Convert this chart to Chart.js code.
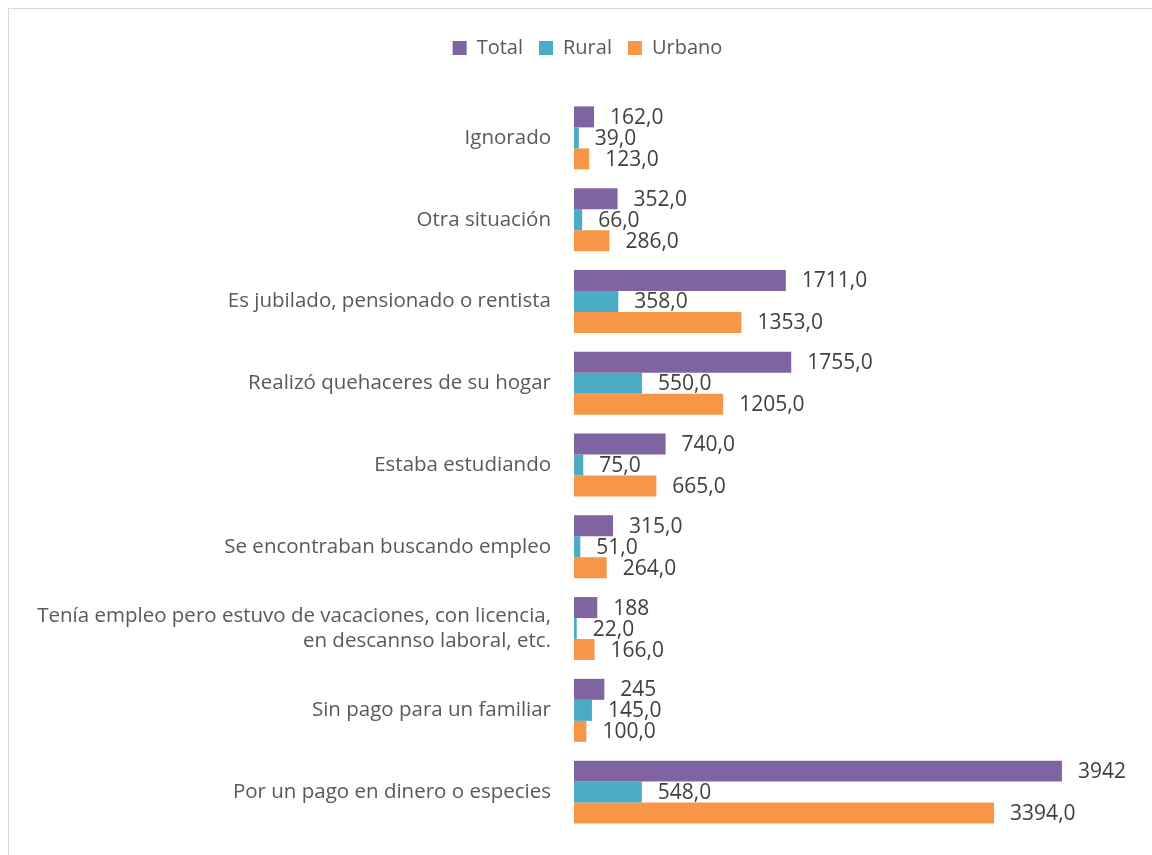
<!DOCTYPE html>
<html>
<head>
<meta charset="utf-8">
<script src="https://cdn.jsdelivr.net/npm/chart.js@4/dist/chart.umd.min.js"></script>
<style>
  html, body { margin: 0; padding: 0; background: #fff; }
  #wrap { position: relative; width: 1152px; height: 855px; overflow: hidden; }
  #frame { position: absolute; left: 8px; top: 8px; width: 1200px; height: 900px; border: 1px solid #d9d9d9; box-sizing: border-box; }
  canvas { position: absolute; left: 0; top: 0; }
</style>
</head>
<body>
<div id="wrap">
  <div id="frame"></div>
  <canvas id="chart" width="1152" height="855"></canvas>
</div>
<script>
const categories = [
  'Ignorado',
  'Otra situación',
  'Es jubilado, pensionado o rentista',
  'Realizó quehaceres de su hogar',
  'Estaba estudiando',
  'Se encontraban buscando empleo',
  ['Tenía empleo pero estuvo de vacaciones, con licencia,', 'en descannso laboral, etc.'],
  'Sin pago para un familiar',
  'Por un pago en dinero o especies'
];
const totalValues = [162, 352, 1711, 1755, 740, 315, 188, 245, 3942];
const ruralValues = [39, 66, 358, 550, 75, 51, 22, 145, 548];
const urbanoValues = [123, 286, 1353, 1205, 665, 264, 166, 100, 3394];
// the source prints some totals without the decimal
const totalLabels = ['162,0', '352,0', '1711,0', '1755,0', '740,0', '315,0', '188', '245', '3942'];

const fmt = v => v.toFixed(1).replace('.', ',');

const valueLabels = {
  id: 'valueLabels',
  afterDatasetsDraw(chart) {
    const { ctx } = chart;
    ctx.save();
    ctx.font = '21px "Open Sans"';
    ctx.fillStyle = '#404040';
    ctx.textBaseline = 'middle';
    ctx.textAlign = 'left';
    chart.data.datasets.forEach((ds, i) => {
      const meta = chart.getDatasetMeta(i);
      meta.data.forEach((bar, j) => {
        const txt = ds.labels ? ds.labels[j] : fmt(ds.data[j]);
        ctx.fillText(txt, bar.x + 16, bar.y + 1);
      });
    });
    ctx.restore();
  }
};

// extra room under the legend, and legend nudged right to sit over the plot
const legendGap = {
  id: 'legendGap',
  beforeInit(chart) {
    const fit = chart.legend.fit;
    chart.legend.fit = function () {
      fit.call(this);
      this.height += 29;
    };
  },
  afterLayout(chart) {
    chart.legend.left += 22;
    chart.legend.right += 22;
  }
};

const data = {
  labels: categories,
  datasets: [
    { label: 'Total', data: totalValues, labels: totalLabels, backgroundColor: '#8064A2' },
    { label: 'Rural', data: ruralValues, backgroundColor: '#4BACC6' },
    { label: 'Urbano', data: urbanoValues, backgroundColor: '#F79646' }
  ]
};

const config = {
  type: 'bar',
  data,
  options: {
    responsive: false,
    animation: false,
    indexAxis: 'y',
    categoryPercentage: 0.77,
    barPercentage: 1,
    layout: { padding: { top: 22, right: 21, bottom: 22, left: 0 } },
    scales: {
      x: {
        display: false,
        min: 0,
        max: 4500
      },
      y: {
        grid: { display: false },
        border: { display: false },
        ticks: {
          color: '#595959',
          font: { family: '"Open Sans"', size: 20.5 },
          padding: 15
        },
        afterFit(scale) {
          scale.width = 574;
          scale.paddingTop = 0;
          scale.paddingBottom = 0;
        }
      }
    },
    plugins: {
      legend: {
        position: 'top',
        labels: {
          color: '#595959',
          font: { family: '"Open Sans"', size: 20 },
          boxWidth: 14,
          boxHeight: 14,
          padding: 16
        }
      },
      tooltip: { enabled: false }
    }
  },
  plugins: [valueLabels, legendGap]
};

const myChart = new Chart(document.getElementById('chart'), config);
</script>
</body>
</html>
